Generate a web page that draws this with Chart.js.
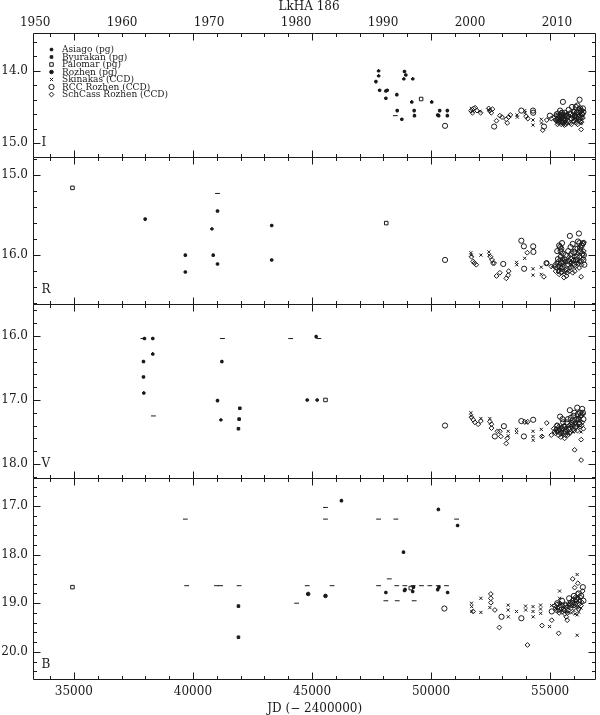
<!DOCTYPE html>
<html><head><meta charset="utf-8">
<script src="https://cdn.jsdelivr.net/npm/chart.js@4.4.0/dist/chart.umd.min.js"></script>
<style>html,body{margin:0;padding:0;background:#fff}canvas{display:block}</style>
</head><body>
<canvas id="c" width="600" height="715"></canvas>
<script>
// ---------------- DATA (JD - 2400000, magnitude) ----------------
// Panel I
const I_asiago = [[47685,14.15],[47797,14.00],[47800,14.07],[47840,14.27],[48103,14.28],[48160,14.27],[48103,14.38],[48563,14.33],[48580,14.55],[48773,14.67],[48885,14.01],[48940,14.06],[48857,14.11],[49233,14.11],[49191,14.43],[49291,14.55],[49304,14.62],[50028,14.43],[50279,14.61],[50320,14.62],[50363,14.55],[50685,14.55],[50685,14.62]];
const I_limit = [[48500,14.62]];
const I_palomar = [[49584,14.39]];
const I_skinakas = [[51690,14.52],[51720,14.56],[52053,14.56],[52430,14.54],[53613,14.61],[53625,14.64],[53934,14.55],[53950,14.58],[54283,14.68],[54283,14.75],[54630,14.67],[54640,14.72],[55150,14.62],[55400,14.66],[55620,14.70],[55900,14.63],[56150,14.68],[56220,14.60],[56300,14.73]];
const I_schcass = [[51680,14.55],[51740,14.58],[51790,14.52],[51850,14.51],[51930,14.55],[52080,14.58],[52420,14.52],[52470,14.55],[52530,14.58],[52580,14.53],[52749,14.69],[52890,14.62],[52980,14.64],[53160,14.67],[53200,14.72],[53260,14.64],[53330,14.61],[53995,14.63],[54065,14.66],[54690,14.82],[54860,14.68],[55050,14.66],[55220,14.68],[55250,14.62],[55280,14.70],[55300,14.66],[55310,14.74],[55330,14.58],[55340,14.62],[55360,14.72],[55380,14.64],[55390,14.70],[55410,14.68],[55430,14.66],[55440,14.60],[55460,14.58],[55470,14.74],[55490,14.71],[55500,14.66],[55520,14.64],[55530,14.70],[55550,14.73],[55560,14.62],[55580,14.60],[55600,14.75],[55620,14.66],[55640,14.68],[55660,14.74],[55700,14.72],[55720,14.60],[55760,14.64],[55800,14.70],[55830,14.58],[55850,14.72],[55870,14.66],[55900,14.74],[55940,14.61],[55960,14.64],[55980,14.69],[56000,14.70],[56020,14.56],[56040,14.62],[56060,14.64],[56080,14.68],[56100,14.72],[56120,14.64],[56130,14.58],[56160,14.74],[56170,14.66],[56190,14.60],[56200,14.52],[56220,14.68],[56230,14.62],[56250,14.58],[56260,14.70],[56280,14.66],[56290,14.56],[56305,14.81],[56320,14.71],[56330,14.64],[56350,14.55],[56360,14.60],[56380,14.65]];
const I_rcc = [[50588,14.76],[52651,14.77],[53793,14.55],[54283,14.55],[54290,14.58],[54743,14.77],[54990,14.62],[55280,14.60],[55300,14.68],[55350,14.67],[55400,14.62],[55420,14.55],[55450,14.70],[55480,14.62],[55500,14.58],[55538,14.43],[55560,14.66],[55590,14.70],[55620,14.58],[55660,14.62],[55700,14.63],[55780,14.54],[55860,14.60],[55900,14.66],[55920,14.50],[56000,14.57],[56040,14.62],[56080,14.50],[56120,14.58],[56150,14.48],[56200,14.64],[56237,14.40],[56260,14.52],[56300,14.55],[56340,14.60],[56380,14.52],[56400,14.57]];

// Panel R
const R_palomar = [[34940,15.16],[48119,15.60]];
const R_asiago = [[37994,15.55],[39681,16.00],[39681,16.21],[40797,15.67],[40852,16.00],[41032,15.45],[41032,16.11],[43308,15.63],[43308,16.06]];
const R_limit = [[41032,15.23]];
const R_skinakas = [[51674,15.97],[51690,16.00],[52094,16.00],[52430,15.96],[52440,16.00],[53590,16.09],[53600,16.12],[53934,16.04],[54283,16.17],[54283,16.25],[54630,16.15],[54630,16.24],[55100,16.15],[55350,16.18],[55600,16.10],[55900,16.12],[56200,16.08]];
const R_schcass = [[51700,16.02],[51770,16.08],[51820,16.10],[51900,16.12],[52500,16.02],[52560,16.06],[52600,16.10],[52650,16.10],[52749,16.26],[52890,16.22],[53160,16.29],[53240,16.25],[53260,16.20],[54040,15.97],[54740,16.27],[54860,16.10],[55050,16.14],[55190,16.14],[55200,16.12],[55230,16.20],[55260,16.16],[55290,16.10],[55320,16.08],[55340,16.14],[55360,16.20],[55380,16.24],[55400,16.12],[55420,16.06],[55450,16.22],[55470,16.16],[55500,16.22],[55520,16.05],[55550,16.12],[55580,16.28],[55610,16.20],[55640,16.18],[55660,16.08],[55690,16.26],[55720,16.22],[55750,16.12],[55780,16.06],[55800,16.20],[55830,16.16],[55860,16.00],[55890,16.10],[55920,16.15],[55950,16.22],[55980,16.06],[56010,16.02],[56040,16.20],[56070,16.14],[56100,16.10],[56130,16.06],[56160,15.98],[56190,16.10],[56220,16.16],[56250,16.02],[56280,15.92],[56305,16.27],[56320,16.12],[56350,16.05],[56380,16.00],[56400,15.86],[56420,15.95],[56430,15.84]];
const R_rcc = [[50588,16.06],[53033,16.11],[53793,15.82],[53900,15.89],[53910,16.17],[54290,15.89],[54300,15.96],[54850,16.10],[55300,15.95],[55330,16.05],[55380,15.88],[55400,16.15],[55420,15.90],[55440,15.95],[55450,16.02],[55470,15.92],[55480,16.10],[55500,15.85],[55530,16.15],[55540,15.98],[55560,16.08],[55600,16.05],[55650,16.00],[55700,16.18],[55760,15.95],[55800,16.08],[55830,15.76],[55860,15.90],[55880,16.05],[55900,15.98],[55950,15.86],[56000,16.12],[56020,15.96],[56060,15.92],[56080,16.06],[56120,16.02],[56150,15.92],[56170,15.83],[56210,15.73],[56230,15.85],[56250,15.95],[56270,15.90],[56290,16.08],[56330,15.88],[56350,15.98],[56380,15.85],[56400,16.06],[56420,16.00],[56440,16.12]];

// Panel V
const V_asiago = [[37965,16.04],[38313,16.04],[37923,16.40],[38313,16.28],[37923,16.64],[37937,16.89],[41215,16.40],[41032,17.01],[41174,17.31],[45175,16.01],[44799,17.00],[45217,17.00]];
const V_byurakan = [[41970,17.13],[41940,17.30],[41912,17.45]];
const V_limit = [[37900,16.04],[38342,17.25],[41241,16.04],[44103,16.04],[45290,16.04]];
const V_palomar = [[45567,17.00]];
const V_skinakas = [[51674,17.20],[51690,17.25],[52094,17.29],[52470,17.29],[53240,17.49],[53245,17.56],[53590,17.46],[53595,17.51],[54010,17.36],[54283,17.49],[54285,17.57],[54290,17.63],[54630,17.46],[54635,17.57],[55250,17.48],[55500,17.55],[55700,17.42],[55950,17.50],[56200,17.40],[56300,17.50]];
const V_schcass = [[51700,17.27],[51770,17.31],[51840,17.35],[51980,17.38],[52090,17.33],[52470,17.34],[52540,17.38],[52540,17.44],[52790,17.49],[52890,17.49],[52930,17.57],[53160,17.68],[53200,17.60],[53930,17.34],[54060,17.34],[54660,17.57],[54860,17.36],[55050,17.55],[55150,17.45],[55180,17.50],[55220,17.52],[55250,17.46],[55280,17.40],[55310,17.50],[55340,17.55],[55360,17.42],[55390,17.47],[55420,17.52],[55450,17.58],[55480,17.50],[55500,17.42],[55530,17.46],[55560,17.52],[55590,17.40],[55610,17.60],[55650,17.55],[55680,17.46],[55710,17.48],[55740,17.55],[55770,17.45],[55800,17.40],[55830,17.52],[55860,17.50],[55890,17.42],[55920,17.35],[55950,17.40],[55980,17.46],[56010,17.48],[56030,17.78],[56060,17.35],[56090,17.38],[56120,17.42],[56150,17.48],[56180,17.30],[56210,17.28],[56240,17.36],[56260,17.42],[56290,17.25],[56305,17.62],[56305,17.94],[56330,17.40],[56350,17.35],[56380,17.22],[56400,17.45]];
const V_rcc = [[50588,17.40],[52680,17.57],[53060,17.41],[53793,17.33],[53900,17.57],[54290,17.31],[55300,17.40],[55350,17.48],[55420,17.26],[55480,17.45],[55520,17.30],[55550,17.35],[55600,17.42],[55650,17.50],[55700,17.35],[55750,17.30],[55800,17.46],[55830,17.16],[55870,17.28],[55900,17.38],[55950,17.32],[55980,17.25],[56020,17.20],[56060,17.42],[56100,17.30],[56140,17.12],[56170,17.22],[56200,17.30],[56230,17.38],[56260,17.20],[56300,17.24],[56350,17.14],[56380,17.20],[56400,17.30]];

// Panel B
const B_palomar = [[34940,18.67],[49150,18.69]];
const B_limit = [[39681,17.27],[39736,18.64],[40990,18.64],[41160,18.64],[41940,18.64],[44354,19.00],[44800,18.64],[45845,18.64],[45567,17.03],[45567,17.27],[47797,17.27],[48522,17.27],[47797,18.64],[48246,18.50],[48103,18.95],[48580,18.95],[49291,18.95],[48560,18.64],[48900,18.64],[49250,18.64],[49600,18.64],[49950,18.64],[50300,18.64],[50650,18.64],[51073,17.27]];
const B_byurakan = [[41912,19.06],[41912,19.70]];
const B_rozhen = [[44840,18.81],[45567,18.85]];
const B_asiago = [[46237,16.89],[48103,18.78],[48843,17.95],[48885,18.74],[48910,18.72],[49262,18.67],[49230,18.76],[50308,17.07],[50280,18.72],[50330,18.67],[50696,18.78],[51115,17.40]];
const B_skinakas = [[51700,19.00],[51705,19.07],[51710,19.17],[52094,18.90],[52094,19.19],[52470,19.09],[53240,19.04],[53240,19.14],[53245,19.28],[53590,19.17],[53970,19.06],[53975,19.14],[54283,19.07],[54283,19.17],[54290,19.28],[54600,19.04],[54600,19.12],[54605,19.21],[54980,19.48],[55060,19.05],[55250,19.10],[55400,18.75],[55400,18.90],[55420,19.02],[55450,19.15],[55600,19.10],[55700,19.18],[55800,19.00],[55900,19.20],[56000,19.15],[56050,19.22],[56137,18.41],[56137,19.24],[56137,19.66],[56140,19.08],[56150,18.95],[56200,19.18],[56300,19.10]];
const B_schcass = [[51770,19.17],[52510,18.81],[52510,18.90],[52515,18.99],[52680,19.14],[52870,19.50],[54050,19.86],[54660,19.46],[55070,19.35],[55360,19.62],[55680,19.28],[55720,19.35],[55950,18.50],[56030,18.68],[56166,18.59],[55200,19.05],[55230,19.10],[55260,19.15],[55290,19.02],[55320,19.10],[55350,19.15],[55380,19.20],[55410,19.00],[55440,19.05],[55470,19.12],[55500,19.18],[55530,19.05],[55560,19.12],[55590,19.15],[55620,19.22],[55650,19.02],[55700,19.08],[55730,19.20],[55760,19.15],[55790,19.08],[55820,19.02],[55850,18.98],[55880,19.10],[55910,19.05],[55940,18.95],[55970,18.92],[56000,19.05],[56030,19.00],[56060,18.88],[56080,18.95],[56100,19.00],[56130,19.08],[56150,18.80],[56180,18.90],[56200,19.12],[56230,19.02],[56250,18.95],[56280,18.88],[56300,19.05],[56330,18.98],[56370,18.75]];
const B_rcc = [[50560,19.11],[52960,19.28],[53793,19.31],[55070,19.17],[55300,19.00],[55500,18.95],[55650,19.05],[55800,18.90],[55950,19.00],[56000,18.85],[56100,18.92],[56200,18.80],[56305,18.85],[56375,18.67],[56400,18.95]];

// Tick labels
const jdTicks = [35000, 40000, 45000, 50000, 55000];
const yearTicks = [1950, 1960, 1970, 1980, 1990, 2000, 2010];
const I_ticks = [14, 15];
const R_ticks = [15, 16];
const V_ticks = [16, 17, 18];
const B_ticks = [17, 18, 19, 20];

const legendLabels = ['Asiago (pg)','Byurakan (pg)','Palomar (pg)','Rozhen (pg)','Skinakas (CCD)','RCC Rozhen (CCD)','SchCass Rozhen (CCD)'];
const legendKeys = ['asiago','byurakan','palomar','rozhen','skinakas','rcc','schcass'];
const bandNames = ['I','R','V','B'];

// ---------------- CONFIG ----------------
const INK = '#1a1a1a';
const FONT = 'DejaVu Serif';
const XMIN = 33283, XMAX = 56945;
const jdToYear = jd => 1950 + (jd - 33282.5) / 365.25;

const STYLE = {
  asiago:  {pointStyle:'star',     radius:1.8, border:1.5, fill:true},
  byurakan:{pointStyle:'rect',     radius:1.8, border:1,   fill:true},
  palomar: {pointStyle:'rect',     radius:2.5, border:1,   fill:false},
  rozhen:  {pointStyle:'circle',   radius:1.8, border:1,   fill:true},
  skinakas:{pointStyle:'crossRot', radius:2.2, border:1,   fill:false},
  rcc:     {pointStyle:'circle',   radius:2.6, border:1,   fill:false},
  schcass: {pointStyle:'rectRot',  radius:2.4, border:1,   fill:false},
  limit:   {pointStyle:'line',     radius:2.4, border:1,   fill:false}
};

const PANELS = [
  {id:'yI', name:bandNames[0], min:13.48, max:15.19, h:124, weight:4, ticks:I_ticks},
  {id:'yR', name:bandNames[1], min:14.775, max:16.61, h:147, weight:3, ticks:R_ticks},
  {id:'yV', name:bandNames[2], min:15.50, max:18.22, h:174, weight:2, ticks:V_ticks},
  {id:'yB', name:bandNames[3], min:16.424, max:20.56, h:201, weight:1, ticks:B_ticks}
];

const SERIES = [
  ['yI','limit',I_limit],['yI','asiago',I_asiago],['yI','palomar',I_palomar],['yI','skinakas',I_skinakas],['yI','schcass',I_schcass],['yI','rcc',I_rcc],
  ['yR','limit',R_limit],['yR','asiago',R_asiago],['yR','palomar',R_palomar],['yR','skinakas',R_skinakas],['yR','schcass',R_schcass],['yR','rcc',R_rcc],
  ['yV','limit',V_limit],['yV','asiago',V_asiago],['yV','byurakan',V_byurakan],['yV','palomar',V_palomar],['yV','skinakas',V_skinakas],['yV','schcass',V_schcass],['yV','rcc',V_rcc],
  ['yB','limit',B_limit],['yB','asiago',B_asiago],['yB','byurakan',B_byurakan],['yB','rozhen',B_rozhen],['yB','palomar',B_palomar],['yB','skinakas',B_skinakas],['yB','schcass',B_schcass],['yB','rcc',B_rcc]
];

const datasets = SERIES.map(([ax, key, arr]) => {
  const st = STYLE[key];
  return {
    label: key + ' ' + ax,
    data: arr.map(p => ({x:p[0], y:p[1]})),
    xAxisID:'x', yAxisID: ax,
    pointStyle: st.pointStyle, pointRadius: st.radius, pointHoverRadius: st.radius,
    pointBorderWidth: st.border,
    pointBackgroundColor: st.fill ? INK : 'rgba(0,0,0,0)',
    pointBorderColor: INK, showLine:false
  };
});

const font = (s) => ({family:FONT, size:s, lineHeight:1.2});
const noGrid = {display:false, drawTicks:false, tickLength:0};
const setTicks = (arr) => function(s){ s.ticks = arr.map(v => ({value:v})); };

const scales = {
  x: {type:'linear', position:'bottom', min:XMIN, max:XMAX,
      grid:noGrid, border:{display:false},
      afterBuildTicks: setTicks(jdTicks),
      ticks:{autoSkip:false, maxRotation:0, padding:6, color:INK, font:font(12), callback:v=>String(v)},
      title:{display:true, text:'JD (− 2400000)', color:INK, font:{family:FONT,size:12,lineHeight:1}, padding:{top:0,bottom:0}},
      afterFit(s){ s.height = 36; }},
  xTop: {type:'linear', position:'top', min:jdToYear(XMIN)-0.25, max:jdToYear(XMAX)-0.25,
      grid:noGrid, border:{display:false},
      afterBuildTicks: setTicks(yearTicks),
      ticks:{autoSkip:false, maxRotation:0, padding:3, color:INK, font:font(12), callback:v=>String(Math.round(v))},
      afterFit(s){ s.height = 33; }}
};
PANELS.forEach(p => {
  scales[p.id] = {type:'linear', position:'left', stack:'mag', stackWeight:p.h, weight:p.weight,
    reverse:true, min:p.min, max:p.max,
    grid:noGrid, border:{display:false},
    afterBuildTicks: setTicks(p.ticks),
    ticks:{autoSkip:false, padding:5, color:INK, font:font(12), callback:v=>Number(v).toFixed(1)},
    afterFit(s){ s.width = 33; }};
});

function drawMarker(ctx, key, x, y) {
  const st = STYLE[key];
  ctx.save();
  ctx.fillStyle = st.fill ? INK : 'rgba(0,0,0,0)';
  ctx.strokeStyle = INK;
  ctx.lineWidth = st.border;
  Chart.helpers.drawPoint(ctx, {pointStyle:st.pointStyle, radius:st.radius, rotation:0, borderWidth:st.border}, x, y);
  ctx.restore();
}

const frames = {
  id:'frames',
  afterDraw(chart) {
    const {ctx, chartArea:ca, scales:S} = chart;
    const xs = S.x;
    ctx.save();
    ctx.strokeStyle = INK; ctx.lineWidth = 1;
    const L = Math.round(ca.left) + 0.5, R = Math.round(ca.right) - 0.5;
    PANELS.forEach(p => {
      const s = S[p.id];
      const T = Math.round(s.top) + 0.5, B = Math.round(s.bottom) + 0.5;
      ctx.beginPath();
      ctx.rect(L, T, R - L, B - T);
      for (let v = Math.ceil(xs.min/1000)*1000; v <= xs.max; v += 1000) {
        const px = Math.round(xs.getPixelForValue(v)) + 0.5;
        const len = v % 5000 === 0 ? 7 : 3.5;
        ctx.moveTo(px, T); ctx.lineTo(px, T + len);
        ctx.moveTo(px, B); ctx.lineTo(px, B - len);
      }
      for (let k = Math.ceil(s.min*5 - 1e-6); k/5 <= s.max + 1e-6; k++) {
        const py = Math.round(s.getPixelForValue(k/5)) + 0.5;
        const len = k % 5 === 0 ? 7 : 3.5;
        ctx.moveTo(L, py); ctx.lineTo(L + len, py);
        ctx.moveTo(R, py); ctx.lineTo(R - len, py);
      }
      ctx.stroke();
      ctx.fillStyle = INK;
      ctx.font = '12px "' + FONT + '"';
      ctx.textAlign = 'left'; ctx.textBaseline = 'alphabetic';
      ctx.fillText(p.name, L + 8, s.bottom - 11);
    });
    // title
    ctx.font = '12px "' + FONT + '"';
    ctx.textAlign = 'center'; ctx.textBaseline = 'alphabetic';
    ctx.fillStyle = INK;
    ctx.fillText('LkHA 186', 309, 10);
    // legend
    const sI = S.yI;
    ctx.font = '9px "' + FONT + '"';
    ctx.textAlign = 'left'; ctx.textBaseline = 'middle';
    legendKeys.forEach((k, i) => {
      const y = sI.top + 16.5 + i * 7.5;
      drawMarker(ctx, k, L + 18, y);
      ctx.fillStyle = INK;
      ctx.fillText(legendLabels[i], L + 28.5, y + 0.5);
    });
    ctx.restore();
  }
};

new Chart(document.getElementById('c'), {
  type:'scatter',
  data:{datasets},
  options:{
    responsive:false, animation:false, devicePixelRatio:1,
    layout:{padding:{left:0, right:2, top:0, bottom:0}},
    plugins:{legend:{display:false}, tooltip:{enabled:false}, title:{display:false}},
    scales
  },
  plugins:[frames]
});
</script></body></html>
